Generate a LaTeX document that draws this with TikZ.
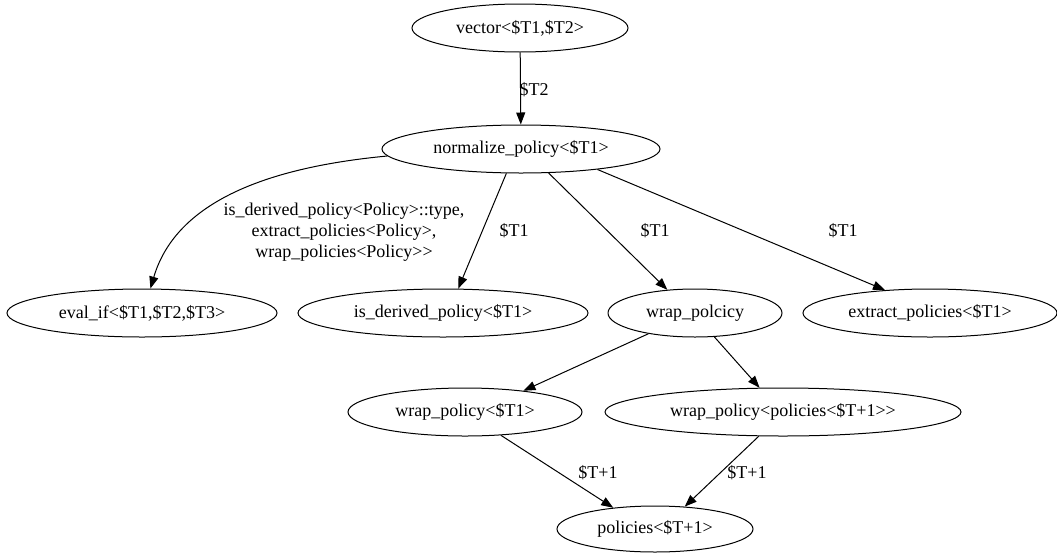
\documentclass[tikz,border=0pt]{standalone}
\usepackage{fontspec}
\setmainfont{Liberation Serif}
\usepackage{tikz}
\usetikzlibrary{shapes,arrows,positioning,calc,arrows.meta}

\tikzset{
    tnode/.style={draw, ellipse, inner sep=0pt, minimum height=48pt, line width=1pt, font=\fontsize{18}{21}\selectfont},
    tlabel/.style={font=\fontsize{18}{21}\selectfont, align=center},
    tedge/.style={-{Triangle[length=12pt,width=9pt]}, line width=1pt},
}

\begin{document}
\begin{tikzpicture}[x=1pt, y=-1pt]
    \useasboundingbox (0, 0) rectangle (1057, 552);
    \node [tnode, minimum width=216pt] (vec) at (520, 28) {vector<\$T1,\$T2>};
    \node [tnode, minimum width=278pt] (norm) at (521, 149) {normalize\_policy<\$T1>};
    \node [tnode, minimum width=270pt] (evalif) at (142, 313) {eval\_if<\$T1,\$T2,\$T3>};
    \node [tnode, minimum width=290pt] (isder) at (443, 313) {is\_derived\_policy<\$T1>};
    \node [tnode, minimum width=174pt] (wrapc) at (695, 313) {wrap\_polcicy};
    \node [tnode, minimum width=254pt] (extract) at (930, 313) {extract\_policies<\$T1>};
    \node [tnode, minimum width=234pt] (wrapone) at (465, 412) {wrap\_policy<\$T1>};
    \node [tnode, minimum width=356pt] (wrappol) at (783, 412) {wrap\_policy<policies<\$T+1>{}>};
    \node [tnode, minimum width=196pt, minimum height=46pt] (pol) at (655, 529) {policies<\$T+1>};

    \draw [tedge] (vec) -- (norm);
    \draw [tedge] (norm.183) .. controls (260, 168) and (175, 205) .. (evalif.71);
    \draw [tedge] (norm.239) -- (isder.58);
    \draw [tedge] (norm.319) -- (wrapc.140);
    \draw [tedge] (norm.345) -- (extract.153);
    \draw [tedge] (wrapc.204) -- (wrapone.20);
    \draw [tedge] (wrapc.309) -- (wrappol.134);
    \draw [tedge] (wrapone.327) -- (pol.153);
    \draw [tedge] (wrappol.225) -- (pol.37);

    \node [tlabel] (lvec) at (534, 90) {\$T2};
    \node [tlabel] (leval) at (344, 232) {is\_derived\_policy<Policy>::type,\\extract\_policies<Policy>,\\wrap\_policies<Policy>{}>};
    \node [tlabel] (lisder) at (514, 231) {\$T1};
    \node [tlabel] (lwrapc) at (655, 231) {\$T1};
    \node [tlabel] (lextract) at (843, 231) {\$T1};
    \node [tlabel] (lwrapone) at (598, 473) {\$T+1};
    \node [tlabel] (lwrappol) at (747, 473) {\$T+1};
\end{tikzpicture}
\end{document}
